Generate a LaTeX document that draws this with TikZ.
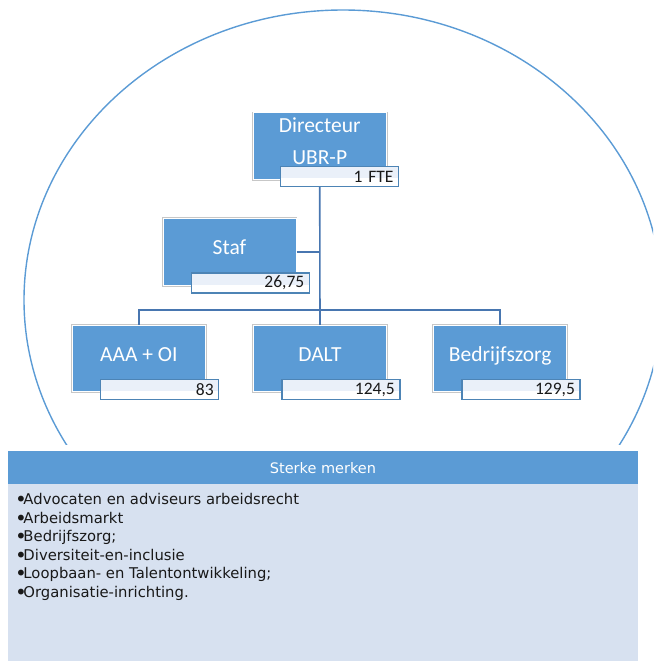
\documentclass[tikz,border=0pt]{standalone}
\usepackage{fontspec}
\setmainfont{Carlito}
\newfontfamily\panelfont{DejaVu Sans}
\usepackage{xcolor}
\usepackage{tikz}
\definecolor{unitblue}{HTML}{5B9BD5}
\definecolor{linkblue}{HTML}{4876B0}
\definecolor{valtop}{HTML}{EAF0F9}
\definecolor{panelbody}{HTML}{D7E1F0}
\newcommand{\bul}{\raisebox{-2pt}{\fontsize{20}{20}\selectfont\textbullet}\kern-3.5pt}

\begin{document}
\begin{tikzpicture}[
    x=1pt, y=-1pt,
    unit/.style={fill=unitblue, draw=white, line width=1pt, preaction={draw=black!22, line width=2.6pt}, minimum width=133pt, minimum height=66.5pt, text=white, align=center, font=\fontsize{21.5}{32}\selectfont},
    lift/.style={text height=14pt, text depth=9pt},
    fte/.style={draw=unitblue!85!black, line width=1.5pt, fill=white, path picture={\fill[valtop] (path picture bounding box.north west) rectangle ([yshift=-1.5pt]path picture bounding box.east);}, text width=108pt, align=right, inner xsep=5pt, inner ysep=0pt, minimum height=20pt, text=black!90, anchor=south east, font=\fontsize{17.5}{19}\selectfont},
    link/.style={draw=linkblue, line width=1.6pt},
    ring/.style={draw=unitblue, line width=1.4pt},
    head/.style={fill=unitblue, text=white, minimum width=630.5pt, minimum height=33pt, inner sep=0pt, anchor=north west, font=\panelfont\fontsize{14.5}{16}\selectfont},
    lijst/.style={align=left, inner sep=0pt, anchor=north west, text=black!90, font=\panelfont\fontsize{14.8}{18.6}\selectfont}
]
\useasboundingbox (0,0) rectangle (653,661);

\begin{scope}
\clip (0,0) rectangle (653,444);
\draw[ring] (343,300) ellipse [x radius=319pt, y radius=290pt];
\end{scope}

\node[unit, text depth=11pt] (dir) at (319.7,146.2) {Directeur\\UBR-P};
\node[unit, lift] (staf) at (229.5,252) {Staf};
\node[unit, lift] (aaa) at (138.9,358.7) {AAA + OI};
\node[unit, lift] (dalt) at (320,358.7) {DALT};
\node[unit, lift] (bed) at (500.2,358.7) {Bedrijfszorg};

\coordinate (bar) at (320,310);
\draw[link] (dir.south) -- (dalt.north);
\draw[link] (aaa.north) |- (bar) -| (bed.north);
\draw[link] (staf.east) -- (staf.east -| dir.south);

\node[fte] (dirfte) at ([shift={(12.5,7.5)}]dir.south east) {1 FTE};
\node[fte] (staffte) at ([shift={(13.5,8)}]staf.south east) {26,75};
\node[fte] (aaafte) at ([shift={(13.5,8)}]aaa.south east) {83};
\node[fte] (daltfte) at ([shift={(13.5,8)}]dalt.south east) {124,5};
\node[fte] (bedfte) at ([shift={(13.5,8)}]bed.south east) {129,5};

\node[head] (kop) at (7.5,451) {Sterke merken};
\fill[panelbody] (kop.south west) rectangle (638,661);
\node[lijst] (merken) at ([shift={(7.5,8.6)}]kop.south west) {\bul Advocaten en adviseurs arbeidsrecht\\
\bul Arbeidsmarkt\\
\bul Bedrijfszorg;\\
\bul Diversiteit-en-inclusie\\
\bul Loopbaan- en Talentontwikkeling;\\
\bul Organisatie-inrichting.};
\end{tikzpicture}
\end{document}
